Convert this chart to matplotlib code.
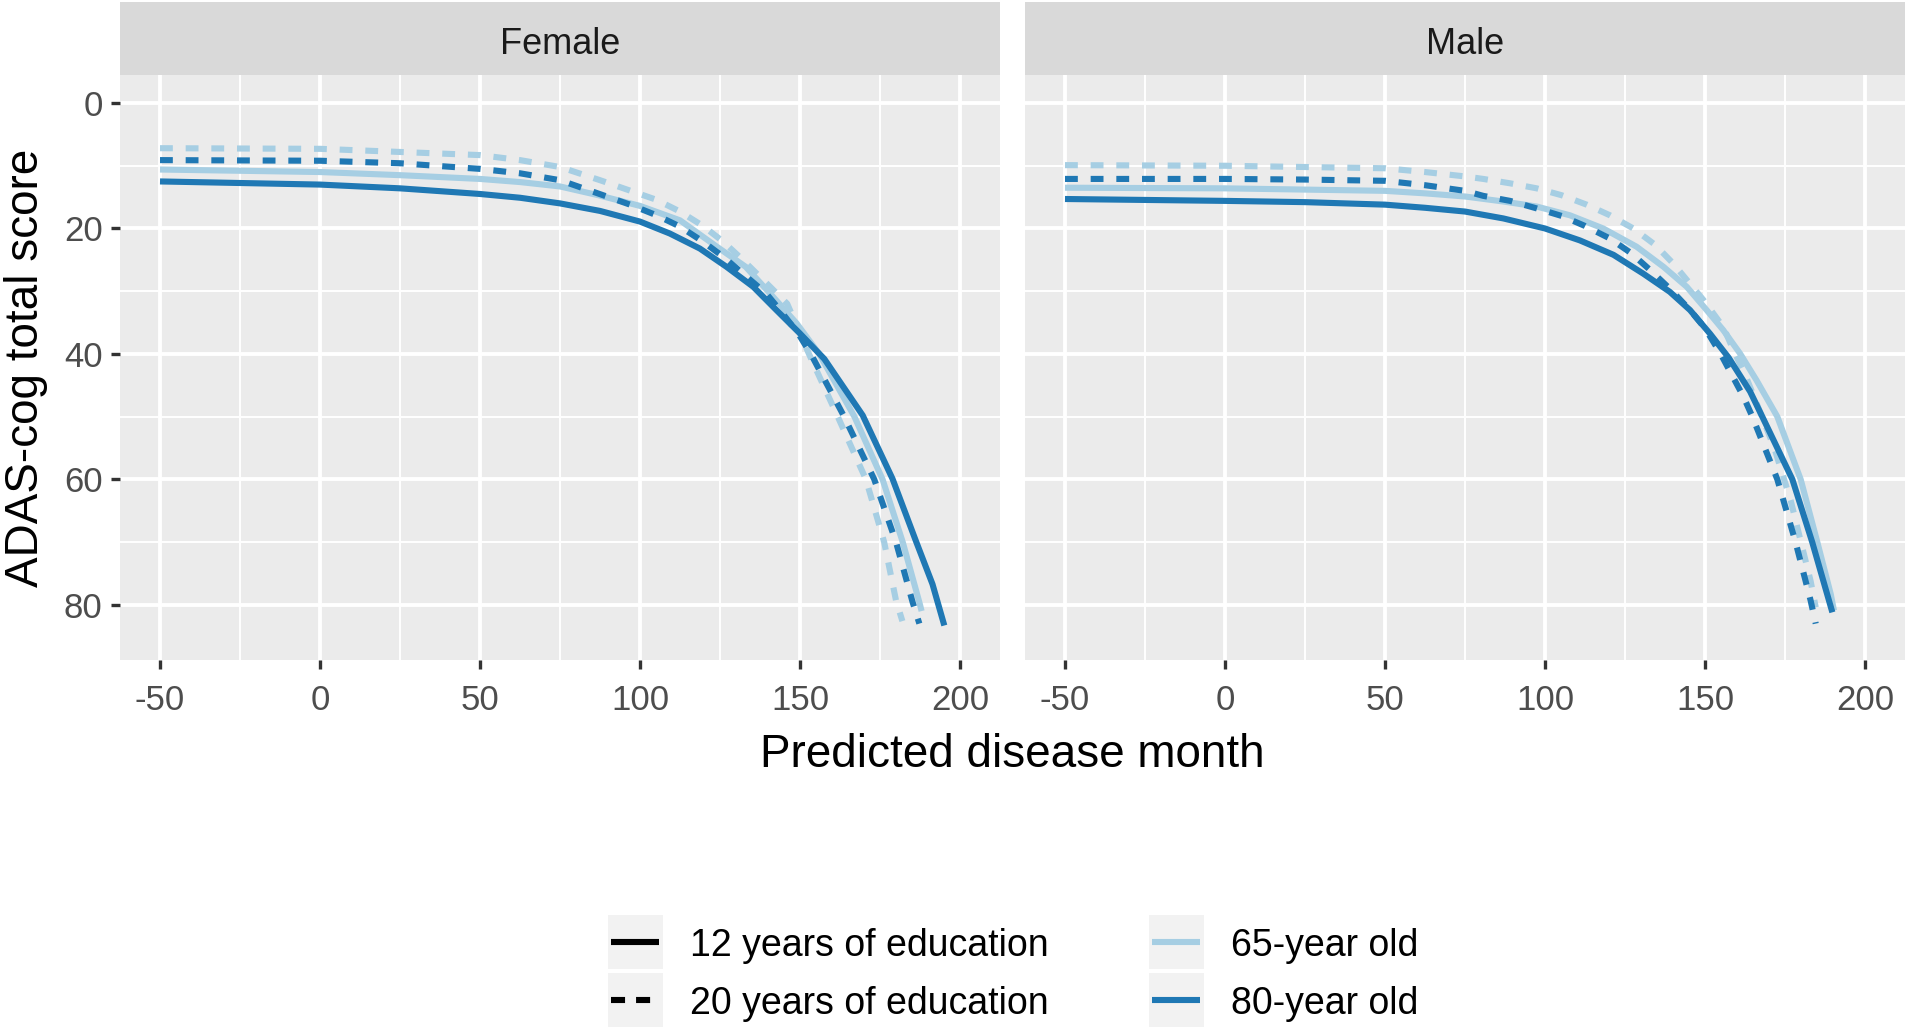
import matplotlib.pyplot as plt
from matplotlib.lines import Line2D
from matplotlib.patches import Rectangle

plt.rcParams['font.family'] = ['Liberation Sans', 'DejaVu Sans']

panels = ['Female', 'Male']
age_labels = ['65-year old', '80-year old']
edu_labels = ['12 years of education', '20 years of education']
x_ticks = [-50, 0, 50, 100, 150, 200]
y_ticks = [0, 20, 40, 60, 80]

# Female, 65-year old
female_65_12_x = [-50, 0, 25, 50, 62.5, 75, 87, 100, 112.5, 124, 133, 141.6, 148.9, 156, 167, 175.8, 182.1, 187.3, 188]
female_65_12_y = [10.6, 11.0, 11.5, 12.1, 12.6, 13.3, 14.7, 16.4, 18.7, 22.9, 26.1, 30.9, 35.1, 40, 50, 60, 70, 79.6, 81]
female_65_20_x = [-50, 0, 25, 50, 62.5, 75, 87.5, 105, 112.5, 119.7, 126, 131.7, 138.5, 146, 152.8, 161.8, 170.6, 176.3, 180, 182]
female_65_20_y = [7.2, 7.3, 7.8, 8.3, 9.1, 10.2, 12.3, 15.4, 17.3, 19.6, 22.1, 24.8, 28.2, 32.0, 40, 50, 60, 70, 79.3, 82.6]
# Female, 80-year old
female_80_12_x = [-50, 0, 25, 50, 62.5, 75, 87.5, 100, 109.3, 118.7, 127, 135.4, 142.6, 149.9, 157.6, 169.6, 178.9, 186.2, 191.4, 195.1]
female_80_12_y = [12.5, 13.0, 13.6, 14.5, 15.1, 16.0, 17.2, 18.9, 20.8, 23.2, 26.1, 29.3, 33.0, 36.7, 40.8, 49.8, 59.9, 69.8, 76.7, 83.3]
female_80_20_x = [-50, 0, 25, 50, 62.5, 75, 89.6, 96.9, 105.2, 112.5, 119.7, 126, 133.3, 139.5, 143.7, 149.4, 153.6, 163.8, 173.2, 180, 185.2, 187.3]
female_80_20_y = [9.1, 9.2, 9.6, 10.5, 11.2, 12.3, 14.9, 16.2, 17.9, 19.7, 22.1, 24.5, 27.7, 30.4, 33.0, 36.7, 40.2, 50, 60, 70, 79.6, 83]

# Male, 65-year old
male_65_12_x = [-50, 0, 25, 50, 62.5, 75, 87, 97.4, 107.8, 118.2, 128.6, 137, 144.3, 150.5, 155.7, 160.9, 166.1, 172.6, 179.9, 185.1, 189.3, 190.3]
male_65_12_y = [13.5, 13.6, 13.8, 14.0, 14.4, 14.9, 15.7, 16.5, 17.9, 20.0, 22.9, 26.1, 29.3, 33.0, 36.2, 39.9, 44.2, 50, 60, 70, 78.3, 80.9]
male_65_20_x = [-50, 0, 25, 50, 62.5, 75, 80.7, 89.1, 97.4, 105.2, 113, 120.3, 127.6, 134.4, 140.1, 149.5, 155.7, 158.9, 162.7, 171.6, 176.8, 180.9, 183, 184.6]
male_65_20_y = [9.9, 10.0, 10.2, 10.4, 11.0, 11.7, 12.1, 12.8, 13.6, 14.7, 16.2, 17.9, 20.0, 22.6, 25.6, 31.4, 35.7, 39.4, 43.5, 54.9, 63.4, 71.9, 76.2, 80.4]
# Male, 80-year old
male_80_12_x = [-50, 0, 25, 50, 62.5, 75, 87, 100, 110.9, 121.4, 130.7, 139, 145.3, 151.6, 157.4, 164.1, 167.9, 177.3, 183.5, 189.8]
male_80_12_y = [15.3, 15.6, 15.8, 16.2, 16.7, 17.3, 18.4, 20.0, 21.9, 24.2, 27.2, 30.1, 33.0, 36.8, 40.6, 46.0, 50, 60, 70, 81.2]
male_80_20_x = [-50, 0, 25, 50, 62.5, 75, 80.7, 89.1, 97.4, 105.2, 112.5, 120.3, 127.1, 132.8, 139, 145.3, 150, 154.8, 162, 164.8, 172.6, 178.3, 183, 184.6]
male_80_20_y = [12.1, 12.1, 12.2, 12.4, 13.1, 14.0, 14.8, 15.6, 16.8, 18.0, 19.6, 21.6, 24.0, 26.6, 29.6, 33.0, 35.9, 39.9, 46.8, 50, 60, 70, 79.3, 83]

series = {
    'Female': [(female_65_12_x, female_65_12_y, 0, 0), (female_65_20_x, female_65_20_y, 0, 1),
               (female_80_12_x, female_80_12_y, 1, 0), (female_80_20_x, female_80_20_y, 1, 1)],
    'Male': [(male_65_12_x, male_65_12_y, 0, 0), (male_65_20_x, male_65_20_y, 0, 1),
             (male_80_12_x, male_80_12_y, 1, 0), (male_80_20_x, male_80_20_y, 1, 1)],
}

colors = ['#A6CEE3', '#1F78B4']
LW = 4.4
DASH = (2.1, 2.1)

W, H = 1907, 1029
fig = plt.figure(figsize=(W / 100, H / 100), dpi=100)

panel_left = [120, 1025]
panel_w = 880
top, bottom = 75, 660

for i, sex in enumerate(panels):
    ax = fig.add_axes([panel_left[i] / W, 1 - bottom / H, panel_w / W, (bottom - top) / H])
    ax.set_facecolor('#EBEBEB')
    for s in ax.spines.values():
        s.set_visible(False)
    ax.set_xlim(-62.5, 212.5)
    ax.set_ylim(88.8, -4.47)
    ax.set_xticks(x_ticks)
    ax.set_xticks([-25, 25, 75, 125, 175], minor=True)
    ax.set_yticks(y_ticks)
    ax.set_yticks([10, 30, 50, 70], minor=True)
    ax.grid(True, which='major', color='white', linewidth=2.8)
    ax.grid(True, which='minor', color='white', linewidth=1.4)
    ax.set_axisbelow(True)
    ax.tick_params(which='minor', length=0)
    ax.tick_params(which='major', length=6.5, width=2.4, color='#333333',
                   labelsize=25, labelcolor='#4D4D4D', pad=6)
    ax.tick_params(axis='x', pad=11)
    ax.set_xticklabels([str(t) for t in x_ticks])
    if i == 0:
        ax.set_yticklabels([str(t) for t in y_ticks])
    else:
        ax.tick_params(axis='y', length=0, labelleft=False)

    for xs, ys, a, e in series[sex]:
        line, = ax.plot(xs, ys, color=colors[a], lw=LW, solid_capstyle='butt',
                        dash_capstyle='butt', solid_joinstyle='round')
        if e == 1:
            line.set_dashes(DASH)

    sax = fig.add_axes([panel_left[i] / W, 1 - 75 / H, panel_w / W, 73 / H])
    sax.set_facecolor('#D9D9D9')
    sax.set_xticks([])
    sax.set_yticks([])
    for s in sax.spines.values():
        s.set_visible(False)
    sax.text(0.5, 0.42, sex, ha='center', va='center', fontsize=26, color='#1A1A1A',
             transform=sax.transAxes)

fig.text(1012 / W, 1 - 755 / H, 'Predicted disease month', ha='center', va='center', fontsize=33)
fig.text(26 / W, 1 - 368 / H, 'ADAS-cog total score', ha='center', va='center',
         rotation=90, fontsize=33)

# legend, drawn by hand like ggplot's two-column guides
def key(px, py, color, dashed, label):
    fig.add_artist(Rectangle((px / W, 1 - (py + 27) / H), 55 / W, 54 / H,
                             transform=fig.transFigure, color='#F2F2F2', lw=0))
    ln = Line2D([(px + 3) / W, (px + 51) / W], [1 - py / H] * 2, color=color, lw=LW,
                transform=fig.transFigure, solid_capstyle='butt', dash_capstyle='butt')
    if dashed:
        ln.set_dashes((2.3, 1.8))
    fig.add_artist(ln)
    fig.text((px + 82) / W, 1 - (py + 4) / H, label, ha='left', va='center', fontsize=27)

rows = [942, 1000]
for r, lab in enumerate(edu_labels):
    key(608, rows[r], 'black', r == 1, lab)
for r, lab in enumerate(age_labels):
    key(1149, rows[r], colors[r], False, lab)

fig.savefig('out.png', dpi=100)
